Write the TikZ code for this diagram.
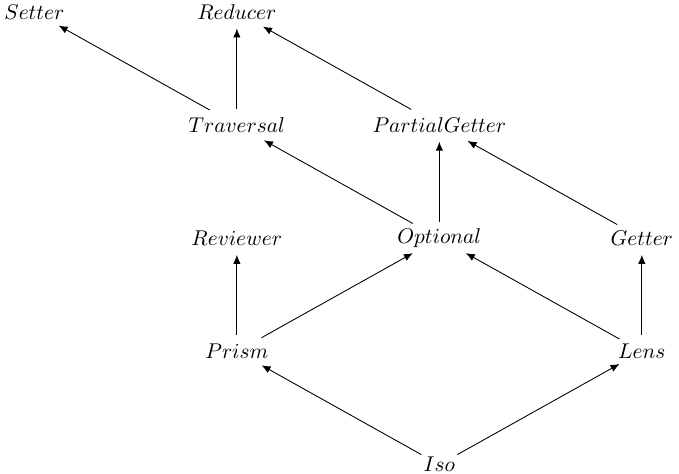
\documentclass[tikz,border=0pt]{standalone}
\usepackage{amsmath, amssymb}
\usetikzlibrary{shapes.geometric, arrows.meta}
\tikzset{->,>={Latex[length=4.6pt,width=3.8pt]},
every picture/.style={line width=0.45pt},
optic/.style={ellipse, inner sep=0pt, minimum height=0.58cm, font=\fontsize{11}{13}\selectfont},
}
\newcommand{\op}[1]{$#1$}

\begin{document}
\begin{tikzpicture}
    \useasboundingbox (-4.27cm,0.216cm) rectangle (7.97cm,-8.32cm);
    \node[optic] (reducer) {\op{Reducer}};
    \node[optic, xshift=-3.65cm] (setter) {\op{Setter}};
    \node[optic, yshift=-2.04cm] (traversal) {\op{Traversal}};
    \node[optic, xshift=3.65cm, yshift=-2.04cm] (partial) {\op{PartialGetter}};
    \node[optic, yshift=-4.08cm] (reviewer) {\op{Reviewer}};
    \node[optic, xshift=3.65cm, yshift=-4.08cm] (optional) {\op{Optional}};
    \node[optic, xshift=7.3cm, yshift=-4.08cm] (getter) {\op{Getter}};
    \node[optic, yshift=-6.12cm] (prism) {\op{Prism}};
    \node[optic, xshift=7.3cm, yshift=-6.12cm] (lens) {\op{Lens}};
    \node[optic, xshift=3.65cm, yshift=-8.16cm] (iso) {\op{Iso}};
    \draw
        (traversal) edge (setter)
        (traversal) edge (reducer)
        (partial) edge (reducer)
        (optional) edge (traversal)
        (optional) edge (partial)
        (getter) edge (partial)
        (prism) edge (reviewer)
        (prism) edge (optional)
        (lens) edge (optional)
        (lens) edge (getter)
        (iso) edge (prism)
        (iso) edge (lens)
        ;
\end{tikzpicture}
\end{document}
